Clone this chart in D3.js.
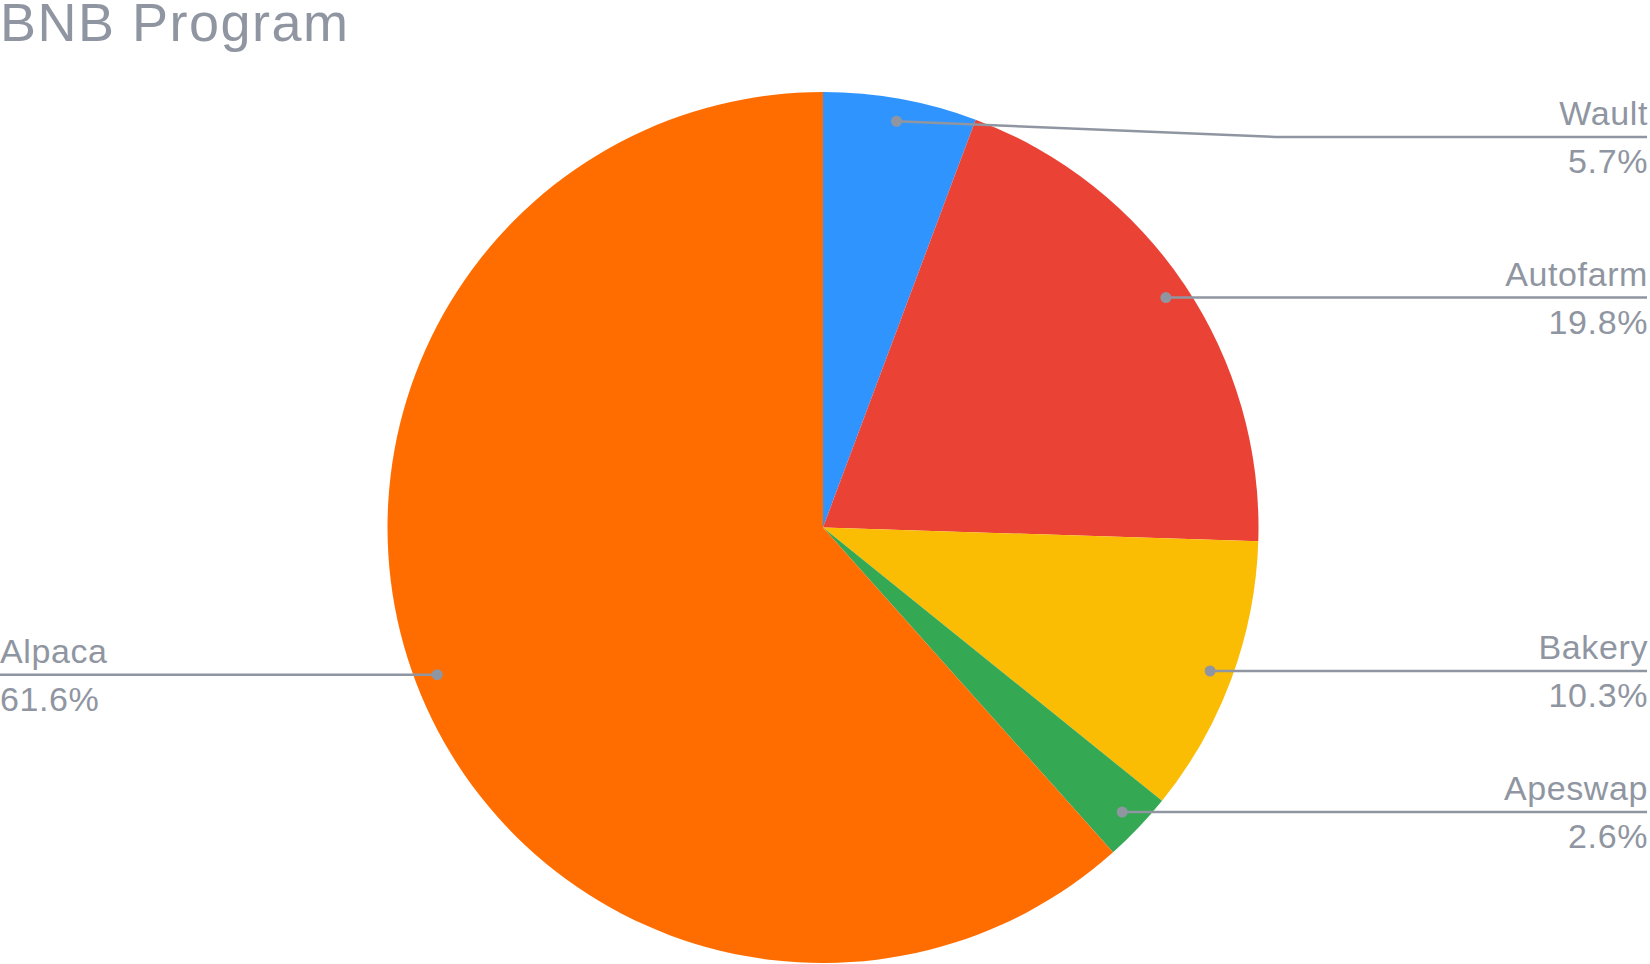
<!DOCTYPE html>
<html lang="en">
<head>
    <meta charset="UTF-8">
    <title>BNB Program</title>
    <script src="https://d3js.org/d3.v7.min.js"></script>
    <style>
        body { margin: 0; background: #fff; }
        text { font-family: "Liberation Sans", Arial, sans-serif; fill: #9096a1; }
    </style>
</head>
<body>
<div id="chart"></div>
<script>
    // data
    var programs = ["Wault", "Autofarm", "Bakery", "Apeswap", "Alpaca"];
    var shares = [5.7, 19.8, 10.3, 2.6, 61.6];
    var colors = ["#3094ff", "#ea4335", "#fbbc04", "#34a853", "#ff6d00"];

    var width = 1650, height = 964;
    var cx = 823, cy = 527.5, radius = 435.5;
    var grey = "#9096a1";

    var svg = d3.select("#chart")
        .append("svg")
        .attr("width", width)
        .attr("height", height);

    svg.append("text")
        .attr("x", 0)
        .attr("y", 41)
        .attr("font-size", 54)
        .attr("letter-spacing", 1.5)
        .text("BNB Program");

    var data = programs.map(function(p, i) {
        return {name: p, value: shares[i], color: colors[i]};
    });

    var pie = d3.pie()
        .sort(null)
        .value(function(d) { return d.value; });

    var arc = d3.arc()
        .innerRadius(0)
        .outerRadius(radius);

    var arcs = pie(data);

    var g = svg.append("g")
        .attr("transform", "translate(" + cx + "," + cy + ")");

    g.selectAll("path")
        .data(arcs)
        .enter()
        .append("path")
        .attr("d", arc)
        .attr("fill", function(d) { return d.data.color; });

    // leader lines + labels
    var dotR = radius * 0.948;
    var topLimit = 137 - cy;   // labels can't go higher than this
    var elbowX = radius * 1.04;
    var rightEdge = 1647 - cx, leftEdge = 0 - cx;

    arcs.forEach(function(d) {
        var a = (d.startAngle + d.endAngle) / 2;
        var px = Math.sin(a) * dotR, py = -Math.cos(a) * dotR;
        var right = px > 0;
        var ly = Math.max(py, topLimit);
        var pts = [[px, py]];
        if (ly !== py) pts.push([elbowX, ly]);
        pts.push([right ? rightEdge : leftEdge, ly]);

        g.append("path")
            .attr("d", d3.line()(pts))
            .attr("fill", "none")
            .attr("stroke", grey)
            .attr("stroke-width", 2.5);

        g.append("circle")
            .attr("cx", px)
            .attr("cy", py)
            .attr("r", 5.5)
            .attr("fill", grey);

        var tx = right ? rightEdge + 1 : leftEdge;
        var anchor = right ? "end" : "start";
        g.append("text")
            .attr("x", tx)
            .attr("y", ly - 12)
            .attr("text-anchor", anchor)
            .attr("font-size", 34)
            .attr("letter-spacing", 0.6)
            .text(d.data.name);
        g.append("text")
            .attr("x", tx)
            .attr("y", ly + 36)
            .attr("text-anchor", anchor)
            .attr("font-size", 34)
            .attr("letter-spacing", 0.6)
            .text(d.data.value.toFixed(1) + "%");
    });
</script>
</body>
</html>
